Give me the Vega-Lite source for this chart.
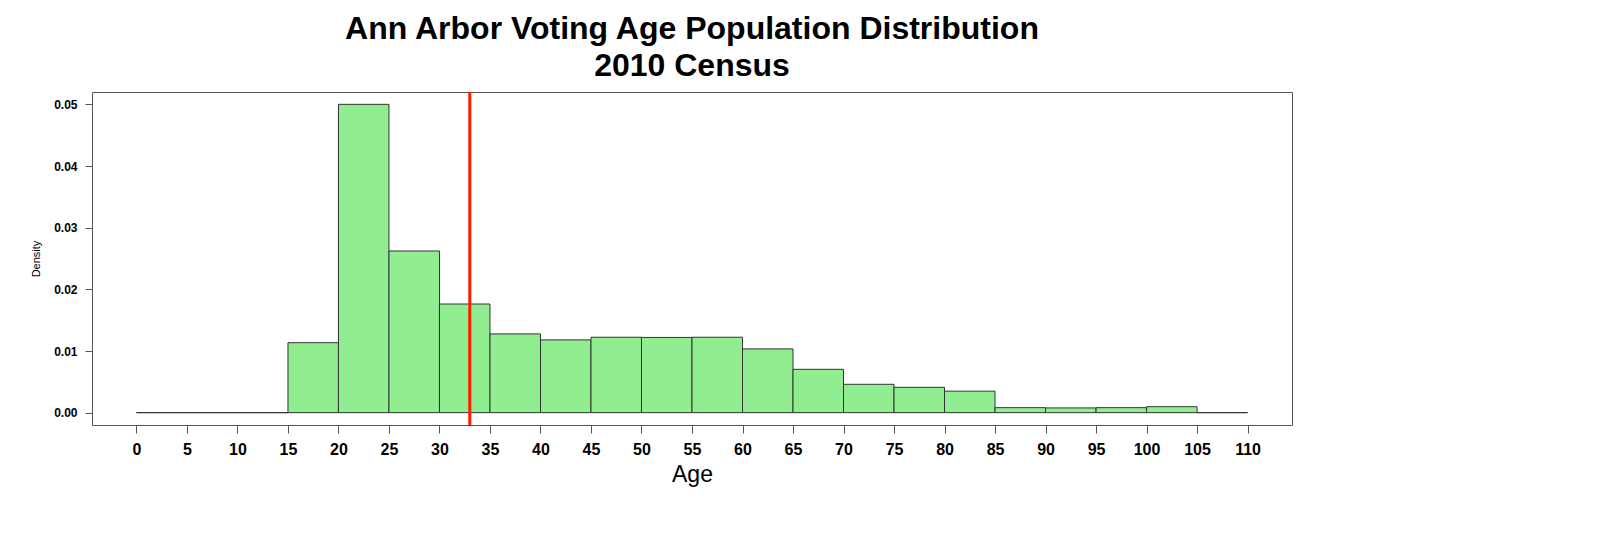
{
  "$schema": "https://vega.github.io/schema/vega-lite/v6.json",
  "width": 1200,
  "height": 333,
  "autosize": {"type": "none"},
  "padding": {"left": 92, "top": 92, "right": 308, "bottom": 108},
  "background": "white",
  "config": {
    "font": "Liberation Sans",
    "view": {"stroke": "#555555", "strokeWidth": 1}
  },
  "title": {
    "text": ["Ann Arbor Voting Age Population Distribution", "2010 Census"],
    "font": "Liberation Sans",
    "fontSize": 32,
    "fontWeight": "bold",
    "lineHeight": 37,
    "anchor": "middle",
    "frame": "group",
    "offset": 8,
    "color": "black"
  },
  "datasets": {
    "bins": [
      {"bin_start": 0, "bin_end": 5, "density": 0},
      {"bin_start": 5, "bin_end": 10, "density": 0},
      {"bin_start": 10, "bin_end": 15, "density": 0},
      {"bin_start": 15, "bin_end": 20, "density": 0.01135},
      {"bin_start": 20, "bin_end": 25, "density": 0.05},
      {"bin_start": 25, "bin_end": 30, "density": 0.02622},
      {"bin_start": 30, "bin_end": 35, "density": 0.01762},
      {"bin_start": 35, "bin_end": 40, "density": 0.01277},
      {"bin_start": 40, "bin_end": 45, "density": 0.0118},
      {"bin_start": 45, "bin_end": 50, "density": 0.01223},
      {"bin_start": 50, "bin_end": 55, "density": 0.0122},
      {"bin_start": 55, "bin_end": 60, "density": 0.01223},
      {"bin_start": 60, "bin_end": 65, "density": 0.01034},
      {"bin_start": 65, "bin_end": 70, "density": 0.00703},
      {"bin_start": 70, "bin_end": 75, "density": 0.0046},
      {"bin_start": 75, "bin_end": 80, "density": 0.00411},
      {"bin_start": 80, "bin_end": 85, "density": 0.00349},
      {"bin_start": 85, "bin_end": 90, "density": 0.00081},
      {"bin_start": 90, "bin_end": 95, "density": 0.00077},
      {"bin_start": 95, "bin_end": 100, "density": 0.00081},
      {"bin_start": 100, "bin_end": 105, "density": 0.00097},
      {"bin_start": 105, "bin_end": 110, "density": 0}
    ],
    "marker": [{"age": 33}]
  },
  "layer": [
    {
      "data": {"name": "bins"},
      "mark": {"type": "rect", "fill": "#90EE90", "stroke": "#333333", "strokeWidth": 1},
      "encoding": {
        "x": {
          "field": "bin_start",
          "type": "quantitative",
          "scale": {"domain": [-4.4, 114.4], "nice": false, "zero": false},
          "axis": {
            "title": "Age",
            "titleFont": "Liberation Sans",
            "titleFontSize": 23,
            "titleFontWeight": "normal",
            "titleColor": "black",
            "titlePadding": 6,
            "values": [0,5,10,15,20,25,30,35,40,45,50,55,60,65,70,75,80,85,90,95,100,105,110],
            "labelFont": "Liberation Sans",
            "labelFontSize": 16,
            "labelFontWeight": "bold",
            "labelColor": "black",
            "labelPadding": 8,
            "labelOverlap": false,
            "labelFlush": false,
            "tickSize": 8,
            "tickColor": "#555555",
            "domain": false,
            "grid": false
          }
        },
        "x2": {"field": "bin_end"},
        "y": {
          "field": "density",
          "type": "quantitative",
          "scale": {"domain": [-0.002, 0.052], "nice": false, "zero": false},
          "axis": {
            "title": "Density",
            "titleFont": "Liberation Sans",
            "titleFontSize": 11,
            "titleFontWeight": "normal",
            "titleColor": "black",
            "titlePadding": 12,
            "values": [0, 0.01, 0.02, 0.03, 0.04, 0.05],
            "format": ".2f",
            "labelFont": "Liberation Sans",
            "labelFontSize": 12,
            "labelFontWeight": "bold",
            "labelColor": "black",
            "labelPadding": 8,
            "tickSize": 7,
            "tickColor": "#555555",
            "domain": false,
            "grid": false
          }
        },
        "y2": {"datum": 0}
      }
    },
    {
      "data": {"name": "marker"},
      "mark": {"type": "rule", "color": "#ff1a00", "strokeWidth": 3},
      "encoding": {
        "x": {"field": "age", "type": "quantitative"}
      }
    }
  ]
}
